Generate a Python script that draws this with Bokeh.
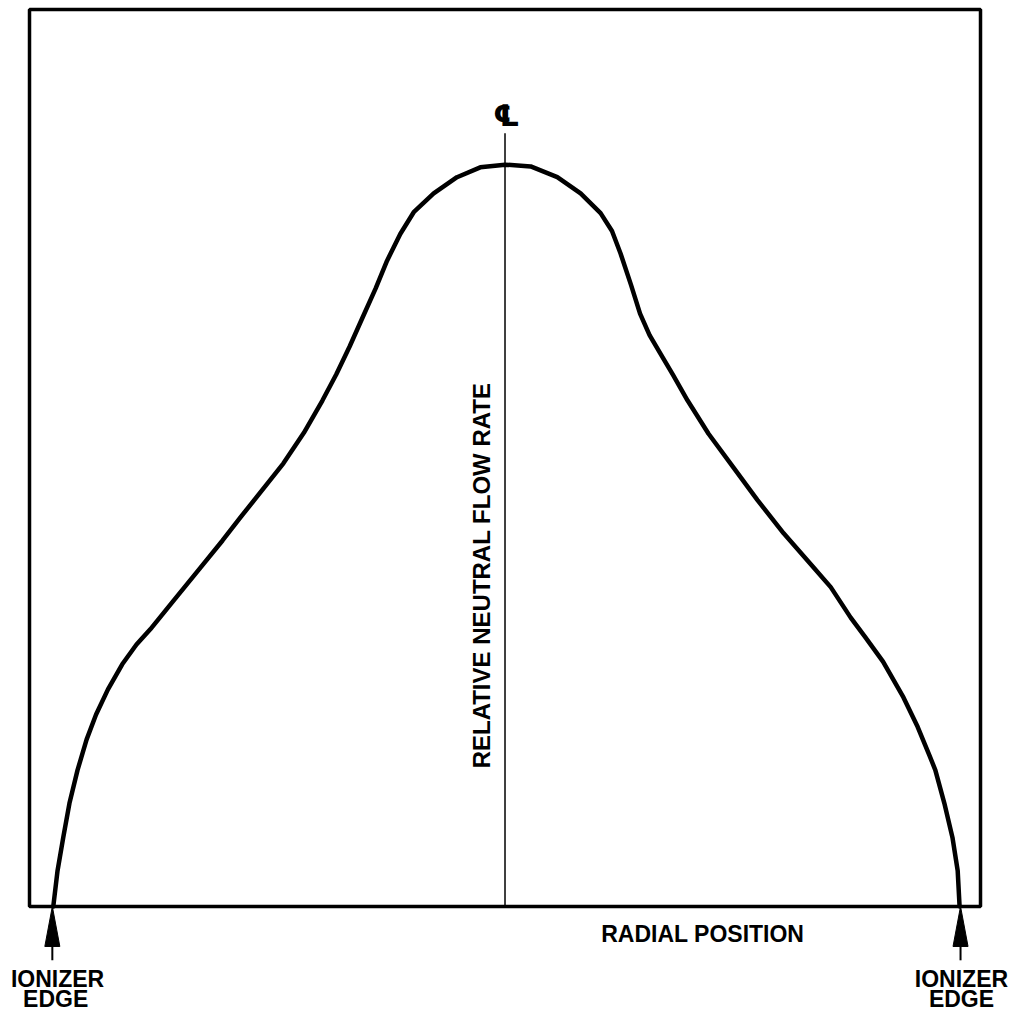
from bokeh.plotting import figure
from bokeh.models import Range1d
from bokeh.core.properties import value
from bokeh.embed import file_html
from bokeh.resources import INLINE
import math

# Radial position (% of half-width, centreline = 0) and relative neutral flow rate (% of full scale)
radial_position = [-95.0, -94.1, -92.9, -91.6, -89.9, -88.0, -86.0, -83.5, -80.5, -77.5,
                   -74.6, -69.7, -64.0, -59.4, -55.6, -49.9, -46.6, -42.3, -38.4, -35.5,
                   -32.7, -30.0, -27.2, -24.8, -22.0, -19.2, -15.0, -10.1, -5.2, 0.0,
                   5.4, 11.0, 15.9, 20.1, 22.5, 24.3, 26.5, 28.4, 30.4, 32.5,
                   35.3, 38.4, 42.8, 48.1, 53.1, 58.6, 64.9, 68.5, 72.7, 75.8,
                   79.5, 83.8, 86.8, 89.3, 90.5, 92.4, 94.1, 95.2, 95.6]
flow_rate = [0.0, 4.0, 7.7, 11.5, 15.2, 18.6, 21.4, 24.2, 27.0, 29.2,
             30.9, 34.1, 37.8, 40.8, 43.4, 47.2, 49.4, 52.8, 56.4, 59.3,
             62.4, 65.6, 68.9, 72.0, 75.0, 77.4, 79.5, 81.3, 82.4, 82.7,
             82.5, 81.3, 79.5, 77.3, 75.3, 72.8, 69.3, 66.1, 63.7, 61.8,
             59.3, 56.4, 52.7, 48.9, 45.3, 41.6, 37.8, 35.6, 32.2, 30.0,
             27.3, 23.3, 20.0, 16.8, 15.2, 11.5, 7.7, 4.0, 0.0]

# Ionizer edges (radial position)
ionizer_edges = [-95.2, 95.8]
centerline_top = 86.2

# Text labels
label_text = ["RADIAL POSITION", "IONIZER", "EDGE", "IONIZER", "EDGE"]
label_x = [41.6, -94.1, -94.5, 96.0, 96.0]
label_y = [-3.07, -8.03, -10.3, -8.03, -10.3]

FONT = "Liberation Sans"

p = figure(width=1016, height=1012, output_backend="svg", toolbar_location=None,
           x_axis_location=None, y_axis_location=None,
           x_range=Range1d(-106.10, 107.57), y_range=Range1d(-11.82, 101.0),
           min_border=0, min_border_left=0, min_border_right=0,
           min_border_top=0, min_border_bottom=0)
p.grid.visible = False
p.outline_line_color = None
p.background_fill_color = "white"
p.border_fill_color = "white"

# Frame box
p.quad(left=[-100], right=[100], bottom=[0], top=[100],
       fill_color=None, line_color="black", line_width=3.5)

# Centreline
p.segment(x0=[0], y0=[0], x1=[0], y1=[centerline_top], line_color="black", line_width=1.5)

# Curve
p.line(radial_position, flow_rate, line_color="black", line_width=4.5,
       line_join="round", line_cap="round")

# Ionizer edge arrows
hl, hw, shaft = 4.46, 1.58, 6.0
p.patches(xs=[[e - hw, e, e + hw] for e in ionizer_edges],
          ys=[[-hl, 0, -hl] for e in ionizer_edges],
          fill_color="black", line_color="black", line_width=1)
p.segment(x0=ionizer_edges, y0=[-hl] * 2, x1=ionizer_edges, y1=[-shaft] * 2,
          line_color="black", line_width=2)

# Labels
p.text(x=label_x, y=label_y, text=label_text, text_align="center", text_baseline="middle",
       text_font=value(FONT), text_font_style="bold", text_font_size="23px", text_color="black")

p.text(x=[-4.9], y=[36.9], text=["RELATIVE NEUTRAL FLOW RATE"], angle=math.pi / 2,
       text_align="center", text_baseline="middle",
       text_font=value(FONT), text_font_style="bold", text_font_size="24px", text_color="black")

p.text(x=[0.3], y=[88.2], text=["\u2104"], text_align="center", text_baseline="middle",
       text_font=value("DejaVu Sans"), text_font_style="bold", text_font_size="30px",
       text_color="black")

open("out.html", "w").write(file_html(p, INLINE))
